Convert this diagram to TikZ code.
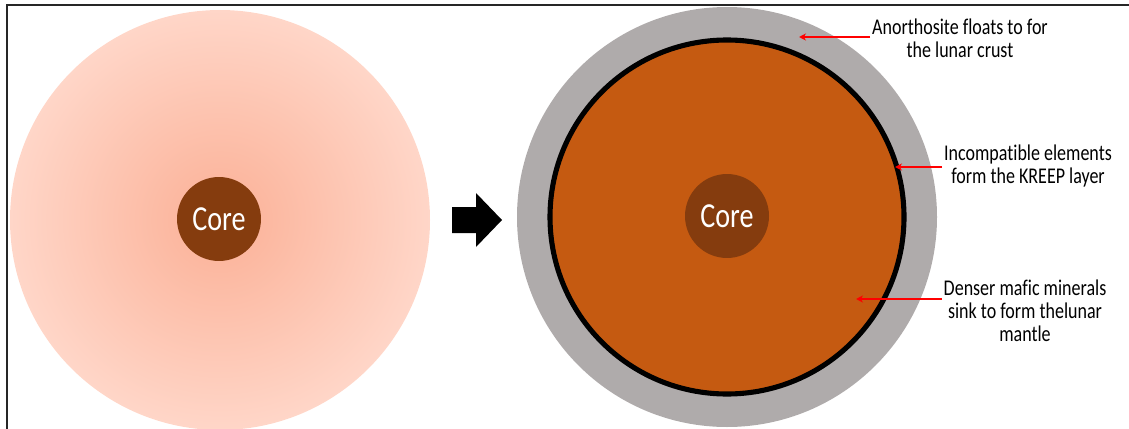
\documentclass[tikz,border=0pt]{standalone}
\usepackage{fontspec}
\setmainfont{Carlito}[FakeStretch=0.8, Ligatures=NoCommon]
\usetikzlibrary{arrows.meta}

\definecolor{meltpink}{RGB}{251,176,150}
\definecolor{meltedge}{RGB}{255,214,200}
\definecolor{corebrown}{RGB}{133,60,14}
\definecolor{mantleorange}{RGB}{197,90,17}
\definecolor{crustgray}{RGB}{175,171,171}

\begin{document}
\begin{tikzpicture}[x=0.02cm,y=-0.02cm] % one unit is one pixel, y runs down
    \tikzstyle{core}=[circle, fill=corebrown, text=white, minimum size=1.68cm, inner sep=0pt, font=\fontsize{20}{22}\selectfont]
    \tikzstyle{note}=[align=center, inner sep=1pt, font=\fontsize{12.8}{13.2}\selectfont]
    \tikzstyle{pointer}=[red, line width=0.8pt, -{Stealth[length=4pt,width=4pt]}]
    \useasboundingbox (0,0) rectangle (1129,429);

    % frame: only top and left edges show
    \draw[line width=1.1pt, black!85] (1129,5) -- (7,5) -- (7,429);

    % molten moon, before
    \shade[inner color=meltpink, outer color=meltedge] (220,220) circle (210);
    \node[core] (coreA) at (219,219) {Core};

    % block arrow
    \fill[black] (452,207) -- (476,207) -- (476,193) -- (502,220) -- (476,247) -- (476,233) -- (452,233) -- cycle;

    % layered moon, after
    \fill[crustgray] (727,217) circle (210);
    \filldraw[fill=mantleorange, draw=black, line width=2.9pt] (727,217) circle (177);
    \node[core] (coreB) at (727,216) {Core};

    % labels
    \node[note] (crust) at (960,38) {Anorthosite floats to for\\the lunar crust};
    \node[note] (kreep) at (1028,166) {Incompatible elements\\form the KREEP layer};
    \node[note] (mantle) at (1025,311) {Denser mafic minerals\\sink to form thelunar\\mantle};

    \coordinate (crustTip) at (799,37);
    \coordinate (kreepTip) at (895,167);
    \coordinate (mantleTip) at (856,299);

    \draw[pointer] (crust.west |- crustTip) -- (crustTip);
    \draw[pointer] (kreep.west |- kreepTip) -- (kreepTip);
    \draw[pointer] (mantle.west |- mantleTip) -- (mantleTip);
\end{tikzpicture}
\end{document}
